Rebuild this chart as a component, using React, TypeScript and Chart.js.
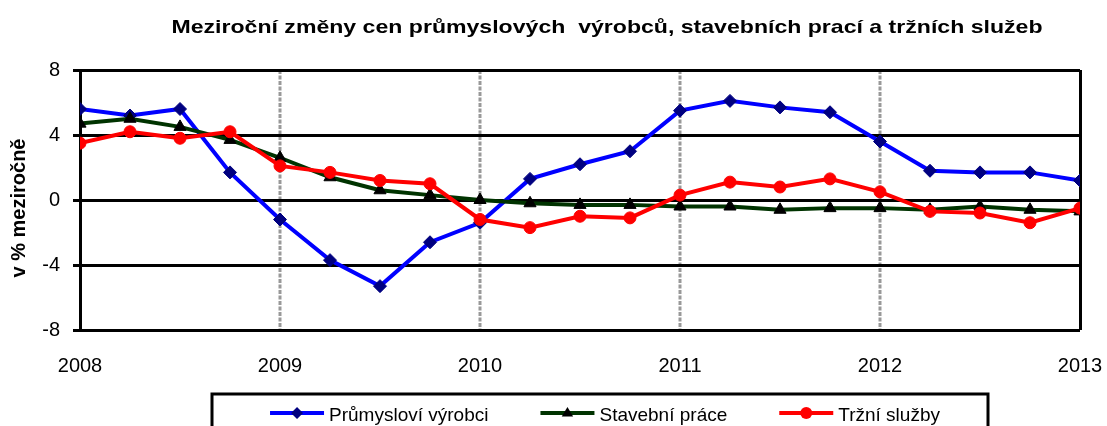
import React, { useEffect, useRef } from 'react';
import { Chart, registerables } from 'chart.js';

Chart.register(...registerables);

const chartTitle = 'Meziroční změny cen průmyslových  výrobců, stavebních prací a tržních služeb';
const yAxisTitle = 'v % meziročně';
const startYear = 2008;
const yearTicks = [2008, 2009, 2010, 2011, 2012, 2013];
const yTicks = [-8, -4, 0, 4, 8];
const seriesNames = ['Průmysloví výrobci', 'Stavební práce', 'Tržní služby'];

// quarterly values, 2008 Q1 .. 2013 Q1
const prumysloviVyrobci = [5.6, 5.2, 5.6, 1.7, -1.2, -3.7, -5.3, -2.6, -1.4, 1.3, 2.2, 3.0, 5.5, 6.1, 5.7, 5.4, 3.6, 1.8, 1.7, 1.7, 1.2];
const stavebniPrace = [4.7, 5.0, 4.5, 3.7, 2.6, 1.4, 0.6, 0.3, 0.0, -0.2, -0.3, -0.3, -0.4, -0.4, -0.6, -0.5, -0.5, -0.6, -0.4, -0.6, -0.7];
const trzniSluzby = [3.5, 4.2, 3.8, 4.2, 2.1, 1.7, 1.2, 1.0, -1.2, -1.7, -1.0, -1.1, 0.3, 1.1, 0.8, 1.3, 0.5, -0.7, -0.8, -1.4, -0.5];

const FONT = 'Arial, "Liberation Sans", sans-serif';

const toPoints = (vals: number[]) => vals.map((v, i) => ({ x: startYear + i / 4, y: v }));

function drawMarker(ctx: CanvasRenderingContext2D, style: string, x: number, y: number, r: number, color: string) {
  ctx.save();
  ctx.fillStyle = color;
  ctx.beginPath();
  if (style === 'rectRot') {
    ctx.moveTo(x, y - r);
    ctx.lineTo(x + r, y);
    ctx.lineTo(x, y + r);
    ctx.lineTo(x - r, y);
    ctx.closePath();
  } else if (style === 'triangle') {
    ctx.moveTo(x, y - r);
    ctx.lineTo(x + r * 0.95, y + r * 0.6);
    ctx.lineTo(x - r * 0.95, y + r * 0.6);
    ctx.closePath();
  } else {
    ctx.arc(x, y, r, 0, Math.PI * 2);
  }
  ctx.fill();
  ctx.restore();
}

const decorPlugin = {
  id: 'decor',
  beforeDraw(chart: any) {
    const { ctx, chartArea, scales } = chart;
    ctx.save();
    ctx.strokeStyle = '#999999';
    ctx.lineWidth = 3;
    ctx.setLineDash([4, 1.5]);
    yearTicks.slice(1, -1).forEach((yr) => {
      const x = Math.round(scales.x.getPixelForValue(yr));
      ctx.beginPath();
      ctx.moveTo(x, chartArea.top);
      ctx.lineTo(x, chartArea.bottom);
      ctx.stroke();
    });
    ctx.restore();
  },
  afterDraw(chart: any) {
    const { ctx } = chart;
    ctx.save();
    // title (stretched horizontally like the original)
    ctx.fillStyle = '#000';
    ctx.font = `bold 19px ${FONT}`;
    ctx.textAlign = 'center';
    ctx.textBaseline = 'alphabetic';
    const tw = ctx.measureText(chartTitle).width;
    const sx = 871 / tw;
    ctx.save();
    ctx.translate(607, 33);
    ctx.scale(sx, 1);
    ctx.fillText(chartTitle, 0, 0);
    ctx.restore();

    // y axis title
    ctx.save();
    ctx.font = `bold 20px ${FONT}`;
    ctx.translate(19, 208);
    ctx.rotate(-Math.PI / 2);
    ctx.textAlign = 'center';
    ctx.textBaseline = 'middle';
    ctx.fillText(yAxisTitle, 0, 0);
    ctx.restore();

    // legend box
    ctx.strokeStyle = '#000';
    ctx.lineWidth = 3;
    ctx.strokeRect(212, 394, 776, 60);

    // legend items
    ctx.font = `19px ${FONT}`;
    ctx.textAlign = 'left';
    const sample = 54;
    const gap = 5;
    const itemGap = 52;
    const datasets = chart.data.datasets;
    const widths = datasets.map((d: any) => ctx.measureText(d.label).width);
    const total = widths.reduce((a: number, w: number) => a + sample + gap + w, 0) + itemGap * (datasets.length - 1);
    let x = 605 - total / 2;
    const lineY = 413;
    datasets.forEach((d: any, i: number) => {
      ctx.strokeStyle = d.borderColor;
      ctx.lineWidth = 4;
      ctx.setLineDash([]);
      ctx.beginPath();
      ctx.moveTo(x, lineY);
      ctx.lineTo(x + sample, lineY);
      ctx.stroke();
      drawMarker(ctx, d.pointStyle, x + sample / 2, lineY, 6, d.pointBackgroundColor);
      ctx.fillStyle = '#000';
      ctx.fillText(d.label, x + sample + gap, 421);
      x += sample + gap + widths[i] + itemGap;
    });
    ctx.restore();
  },
};

export default function App() {
  const canvasRef = useRef<HTMLCanvasElement | null>(null);

  useEffect(() => {
    if (!canvasRef.current) return;
    const chart = new Chart(canvasRef.current, {
      type: 'line',
      data: {
        datasets: [
          {
            label: seriesNames[0],
            data: toPoints(prumysloviVyrobci),
            borderColor: '#0000ff',
            backgroundColor: '#000080',
            pointBackgroundColor: '#000080',
            pointBorderColor: '#000080',
            pointStyle: 'rectRot',
            pointRadius: 6.5,
            pointBorderWidth: 1,
            borderWidth: 4,
            order: 3,
          },
          {
            label: seriesNames[1],
            data: toPoints(stavebniPrace),
            borderColor: '#003300',
            backgroundColor: '#000000',
            pointBackgroundColor: '#000000',
            pointBorderColor: '#000000',
            pointStyle: 'triangle',
            pointRadius: 7,
            pointBorderWidth: 1,
            borderWidth: 4,
            order: 2,
          },
          {
            label: seriesNames[2],
            data: toPoints(trzniSluzby),
            borderColor: '#ff0000',
            backgroundColor: '#ff0000',
            pointBackgroundColor: '#ff0000',
            pointBorderColor: '#ff0000',
            pointStyle: 'circle',
            pointRadius: 6,
            pointBorderWidth: 1,
            borderWidth: 4,
            order: 1,
          },
        ],
      },
      options: {
        animation: false,
        responsive: false,
        maintainAspectRatio: false,
        layout: { padding: { top: 70, right: 27, left: 0, bottom: 0 } },
        plugins: {
          legend: { display: false },
          title: { display: false },
          tooltip: { enabled: false },
        },
        scales: {
          x: {
            type: 'linear',
            min: yearTicks[0],
            max: yearTicks[yearTicks.length - 1],
            afterBuildTicks: (s: any) => {
              s.ticks = yearTicks.map((v) => ({ value: v }));
            },
            afterFit: (s: any) => {
              s.height = 96;
              s.paddingLeft = 0;
              s.paddingRight = 0;
            },
            ticks: {
              autoSkip: false,
              maxRotation: 0,
              padding: 24,
              color: '#000',
              font: { family: FONT, size: 20 },
              callback: (v: any) => String(v),
            },
            grid: {
              drawTicks: false,
              lineWidth: 3,
              color: (c: any) => (c.tick && c.tick.value === yearTicks[yearTicks.length - 1] ? '#000' : 'rgba(0,0,0,0)'),
            },
            border: { display: false },
          },
          y: {
            min: yTicks[0],
            max: yTicks[yTicks.length - 1],
            afterBuildTicks: (s: any) => {
              s.ticks = yTicks.map((v) => ({ value: v }));
            },
            afterFit: (s: any) => {
              s.width = 80;
              s.paddingTop = 0;
              s.paddingBottom = 0;
            },
            ticks: {
              padding: 13,
              color: '#000',
              font: { family: FONT, size: 20 },
            },
            grid: { color: '#000', lineWidth: 3, tickLength: 7 },
            border: { display: true, color: '#000', width: 3 },
            title: { display: false },
          },
        },
      },
      plugins: [decorPlugin],
    } as any);
    return () => chart.destroy();
  }, []);

  return (
    <div style={{ position: 'absolute', left: 0, top: 0, width: 1107, height: 426, background: '#fff' }}>
      <canvas ref={canvasRef} width={1107} height={426} style={{ display: 'block', width: 1107, height: 426 }} />
    </div>
  );
}
